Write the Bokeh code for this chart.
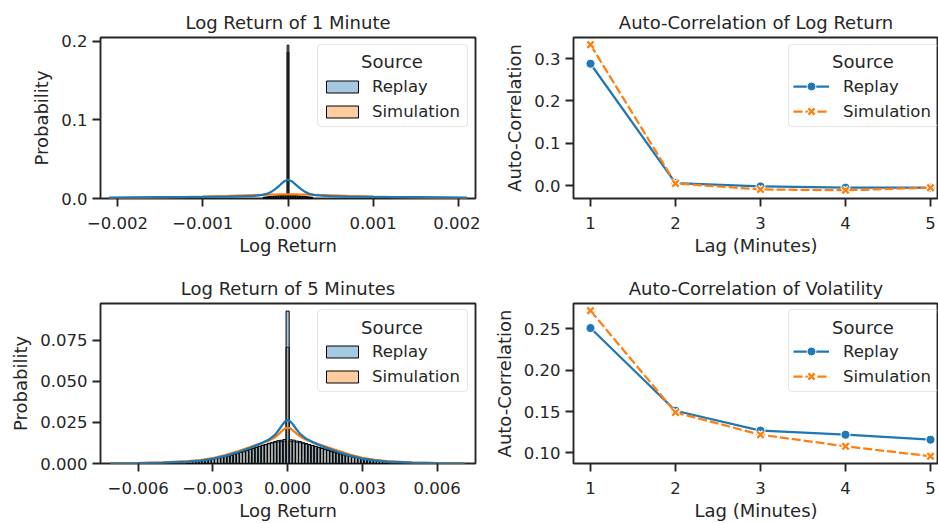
import numpy as np
from bokeh.plotting import figure
from bokeh.layouts import column, row
from bokeh.models import (Legend, LegendItem, FixedTicker, CustomJSTickFormatter,
                          Range1d, Label)
from bokeh.embed import file_html
from bokeh.resources import INLINE

FONT = "DejaVu Sans"
INK = "#262626"
BLUE = "#1f77b4"
ORANGE = "#ff7f0e"
SOURCES = ["Replay", "Simulation"]

# ---------------- data ----------------
# 1-minute log-return histogram (probability), bin width 0.00002, bins -14..14
BIN1_W = 0.00002
bin1_index = np.arange(-14, 15)
replay1_hist = [0.0016, 0.0019, 0.0021, 0.0024, 0.0026, 0.0029, 0.0031, 0.0033, 0.0036, 0.0035,
                0.0038, 0.0041, 0.0040, 0.0044, 0.1950, 0.0043, 0.0041, 0.0039, 0.0040, 0.0036,
                0.0034, 0.0032, 0.0031, 0.0027, 0.0026, 0.0023, 0.0020, 0.0018, 0.0016]
sim1_hist = [0.0012, 0.0013, 0.0014, 0.0014, 0.0015, 0.0016, 0.0016, 0.0017, 0.0018, 0.0018,
             0.0019, 0.0019, 0.0020, 0.0020, 0.1860, 0.0020, 0.0020, 0.0019, 0.0019, 0.0018,
             0.0018, 0.0017, 0.0016, 0.0016, 0.0015, 0.0014, 0.0014, 0.0013, 0.0012]
kde1_x = [-0.0021, -0.0015, -0.001, -0.0007, -0.0005, -0.0004, -0.0003, -0.00025, -0.0002,
          -0.00015, -0.0001, -0.00005, 0.0, 0.00005, 0.0001, 0.00015, 0.0002, 0.00025, 0.0003,
          0.0004, 0.0005, 0.0007, 0.001, 0.0015, 0.0021]
replay1_kde = [0.0012, 0.0016, 0.0020, 0.0024, 0.0029, 0.0034, 0.0045, 0.0058, 0.0082,
               0.0120, 0.0165, 0.0215, 0.0238, 0.0216, 0.0167, 0.0122, 0.0084, 0.0060, 0.0046,
               0.0035, 0.0030, 0.0025, 0.0021, 0.0016, 0.0012]
sim1_kde = [0.0004, 0.0012, 0.0024, 0.0034, 0.0041, 0.0044, 0.0047, 0.0048, 0.0049,
            0.0050, 0.0051, 0.0051, 0.0051, 0.0051, 0.0051, 0.0050, 0.0049, 0.0048, 0.0047,
            0.0044, 0.0041, 0.0034, 0.0024, 0.0012, 0.0004]

# 5-minute log-return histogram (probability), bin width 0.000125, bins -32..32
BIN5_W = 0.000125
bin5_index = np.arange(-32, 33)
replay5_hist = [0.0010, 0.0011, 0.0012, 0.0014, 0.0016, 0.0018, 0.0021, 0.0023, 0.0027, 0.0030,
                0.0034, 0.0037, 0.0042, 0.0046, 0.0050, 0.0056, 0.0061, 0.0067, 0.0071, 0.0078,
                0.0085, 0.0090, 0.0097, 0.0104, 0.0111, 0.0116, 0.0123, 0.0128, 0.0134, 0.0139,
                0.0141, 0.0146, 0.0926, 0.0144, 0.0142, 0.0136, 0.0133, 0.0126, 0.0121, 0.0115,
                0.0109, 0.0103, 0.0096, 0.0091, 0.0084, 0.0079, 0.0072, 0.0068, 0.0062, 0.0057,
                0.0052, 0.0047, 0.0043, 0.0038, 0.0035, 0.0031, 0.0028, 0.0024, 0.0022, 0.0019,
                0.0017, 0.0015, 0.0013, 0.0012, 0.0010]
sim5_hist = [0.0012, 0.0013, 0.0015, 0.0016, 0.0019, 0.0021, 0.0024, 0.0027, 0.0031, 0.0034,
             0.0038, 0.0042, 0.0046, 0.0051, 0.0055, 0.0060, 0.0066, 0.0071, 0.0076, 0.0082,
             0.0088, 0.0093, 0.0099, 0.0104, 0.0110, 0.0114, 0.0119, 0.0123, 0.0127, 0.0130,
             0.0133, 0.0135, 0.0706, 0.0134, 0.0132, 0.0129, 0.0126, 0.0122, 0.0118, 0.0113,
             0.0109, 0.0104, 0.0098, 0.0094, 0.0088, 0.0083, 0.0077, 0.0072, 0.0067, 0.0061,
             0.0056, 0.0051, 0.0047, 0.0043, 0.0039, 0.0035, 0.0032, 0.0028, 0.0025, 0.0022,
             0.0020, 0.0017, 0.0015, 0.0014, 0.0012]
kde5_x = [-0.0071, -0.006, -0.005, -0.004, -0.0035, -0.003, -0.0025, -0.002, -0.0015, -0.00125,
          -0.001, -0.00075, -0.0005, -0.00035, -0.0002, -0.0001, 0.0, 0.0001, 0.0002, 0.00035,
          0.0005, 0.00075, 0.001, 0.00125, 0.0015, 0.002, 0.0025, 0.003, 0.0035, 0.004, 0.005,
          0.006, 0.0071]
replay5_kde = [0.0001, 0.0002, 0.0005, 0.0011, 0.0018, 0.0029, 0.0046, 0.0068, 0.0095, 0.0110,
               0.0127, 0.0145, 0.0175, 0.0205, 0.0237, 0.0256, 0.0264, 0.0257, 0.0240, 0.0208,
               0.0180, 0.0150, 0.0130, 0.0113, 0.0098, 0.0071, 0.0048, 0.0030, 0.0019, 0.0012,
               0.0005, 0.0002, 0.0001]
sim5_kde = [0.0001, 0.0003, 0.0007, 0.0014, 0.0021, 0.0033, 0.0051, 0.0074, 0.0100, 0.0113,
            0.0126, 0.0140, 0.0160, 0.0180, 0.0202, 0.0214, 0.0218, 0.0214, 0.0203, 0.0183,
            0.0164, 0.0144, 0.0130, 0.0117, 0.0104, 0.0078, 0.0054, 0.0035, 0.0022, 0.0014,
            0.0006, 0.0003, 0.0001]

# auto-correlations
lags = [1, 2, 3, 4, 5]
acf_ret_replay = [0.288, 0.006, -0.002, -0.005, -0.005]
acf_ret_sim = [0.333, 0.005, -0.009, -0.011, -0.005]
acf_vol_replay = [0.251, 0.151, 0.127, 0.122, 0.116]
acf_vol_sim = [0.272, 0.149, 0.122, 0.108, 0.096]

# ---------------- layout constants ----------------
LW, RW = 480, 458
TOP_H, BOT_H = 260, 263
FH = 161
LFW, RFW = 375, 365


def fmt(d):
    return CustomJSTickFormatter(code="return tick.toFixed(%d).replace('-', '\u2212');" % d)


def make_fig(title, w, h, xr, yr, bl, br, bt, bb):
    p = figure(title=title, width=w, height=h, output_backend="svg", toolbar_location=None,
               x_range=Range1d(*xr), y_range=Range1d(*yr),
               min_border_left=bl, min_border_right=br, min_border_top=bt, min_border_bottom=bb)
    p.title.text_font = FONT
    p.title.text_font_size = "18px"
    p.title.text_font_style = "normal"
    p.title.text_color = INK
    p.title.align = "center"
    p.title.standoff = 10
    p.outline_line_color = INK
    p.outline_line_width = 1.875
    p.outline_line_alpha = 1
    p.xgrid.visible = False
    p.ygrid.visible = False
    p.background_fill_color = "white"
    p.border_fill_color = "white"
    for ax in p.axis:
        ax.axis_line_color = None
        ax.major_tick_line_color = INK
        ax.major_tick_line_width = 1.875
        ax.major_tick_out = 8
        ax.major_tick_in = 0
        ax.minor_tick_line_color = None
        ax.major_label_text_font = FONT
        ax.major_label_text_font_size = "16.5px"
        ax.major_label_text_color = INK
        ax.axis_label_text_font = FONT
        ax.axis_label_text_font_size = "18px"
        ax.axis_label_text_font_style = "normal"
        ax.axis_label_text_color = INK
    p.xaxis.major_label_standoff = 10
    p.xaxis.axis_label_standoff = 3
    p.yaxis.major_label_standoff = 5
    p.yaxis.axis_label_standoff = 6
    return p


def add_legend(p, items, vx, glyph_w, glyph_h, standoff, xr, yr, fw):
    leg = Legend(items=items, location=(vx, FH - 9 - 81), margin=0,
                 title=" ", title_text_font=FONT, title_text_font_size="18px",
                 title_standoff=5, padding=4, spacing=3,
                 glyph_width=glyph_w, glyph_height=glyph_h, label_height=22, label_width=91,
                 label_standoff=standoff, label_text_font=FONT, label_text_font_size="16.5px",
                 label_text_color=INK, border_line_color="#cccccc", border_line_width=1,
                 background_fill_color="white", background_fill_alpha=0.0)
    if "border_radius" in Legend.properties():
        leg.border_radius = 4
    p.add_layout(leg)
    box_w = 8 + glyph_w + standoff + 91
    cx = vx + box_w / 2.0
    lx = xr[0] + cx / fw * (xr[1] - xr[0])
    ly = yr[1] - 24.0 / FH * (yr[1] - yr[0])
    p.add_layout(Label(x=lx, y=ly, text="Source", text_align="center", text_baseline="middle",
                       text_font=FONT, text_font_size="18px", text_color=INK, level="overlay"))


def hist_panel(title, h, bt, bb, xr, yr, bin_index, bin_w, rep_h, sim_h, kx, rep_k, sim_k,
               xticks, xdec, yticks, ydec):
    p = make_fig(title, LW, h, xr, yr, 100, 5, bt, bb)
    centers = np.asarray(bin_index) * bin_w
    left = centers - bin_w / 2
    right = centers + bin_w / 2
    r_sim = p.quad(left=left, right=right, bottom=0, top=sim_h, fill_color=ORANGE, fill_alpha=0.4,
                   line_color="black", line_width=1)
    r_rep = p.quad(left=left, right=right, bottom=0, top=rep_h, fill_color=BLUE, fill_alpha=0.4,
                   line_color="black", line_width=1)
    p.line(kx, sim_k, line_color=ORANGE, line_width=2.25)
    p.line(kx, rep_k, line_color=BLUE, line_width=2.25)
    p.xaxis.ticker = FixedTicker(ticks=xticks)
    p.xaxis.formatter = fmt(xdec)
    p.yaxis.ticker = FixedTicker(ticks=yticks)
    p.yaxis.formatter = fmt(ydec)
    p.xaxis.axis_label = "Log Return"
    p.yaxis.axis_label = "Probability"
    add_legend(p, [LegendItem(label=SOURCES[0], renderers=[r_rep]),
                   LegendItem(label=SOURCES[1], renderers=[r_sim])],
               217, 40, 15, 10, xr, yr, LFW)
    return p


def acf_panel(title, h, bt, bb, yr, rep, sim, yticks, ydec):
    xr = (0.8, 5.094)
    p = make_fig(title, RW, h, xr, yr, 93, 0, bt, bb)
    p.title.offset = 4
    l_rep = p.line(lags, rep, line_color=BLUE, line_width=2.25)
    m_rep = p.scatter(lags, rep, marker="circle", size=9, fill_color=BLUE, line_color="white",
                      line_width=1)
    l_sim = p.line(lags, sim, line_color=ORANGE, line_width=2.25, line_dash="9 3")
    h_sim = p.scatter(lags, sim, marker="x", size=9, line_color="white", line_width=4.5)
    m_sim = p.scatter(lags, sim, marker="x", size=9, line_color=ORANGE, line_width=2.3)
    p.xaxis.ticker = FixedTicker(ticks=lags)
    p.xaxis.formatter = fmt(0)
    p.yaxis.ticker = FixedTicker(ticks=yticks)
    p.yaxis.formatter = fmt(ydec)
    p.xaxis.axis_label = "Lag (Minutes)"
    p.yaxis.axis_label = "Auto-Correlation"
    add_legend(p, [LegendItem(label=SOURCES[0], renderers=[l_rep, m_rep]),
                   LegendItem(label=SOURCES[1], renderers=[l_sim, h_sim, m_sim])],
               215, 36, 22, 14, xr, yr, RFW)
    return p


p1 = hist_panel("Log Return of 1 Minute", TOP_H, 37, 62, (-0.0022, 0.0022), (0.0, 0.2047),
                bin1_index, BIN1_W, replay1_hist, sim1_hist, kde1_x, replay1_kde, sim1_kde,
                [-0.002, -0.001, 0.0, 0.001, 0.002], 3, [0.0, 0.1, 0.2], 1)
p3 = hist_panel("Log Return of 5 Minutes", BOT_H, 43, 59, (-0.00751, 0.00754), (0.0, 0.0972),
                bin5_index, BIN5_W, replay5_hist, sim5_hist, kde5_x, replay5_kde, sim5_kde,
                [-0.006, -0.003, 0.0, 0.003, 0.006], 3, [0.0, 0.025, 0.05, 0.075], 3)
p2 = acf_panel("Auto-Correlation of Log Return", TOP_H, 37, 62, (-0.0305, 0.350),
               acf_ret_replay, acf_ret_sim, [0.0, 0.1, 0.2, 0.3], 1)
p4 = acf_panel("Auto-Correlation of Volatility", BOT_H, 43, 59, (0.0872, 0.2807),
               acf_vol_replay, acf_vol_sim, [0.10, 0.15, 0.20, 0.25], 2)

layout = column(row(p1, p2), row(p3, p4))
open("out.html", "w").write(file_html(layout, INLINE, "Log return statistics"))
